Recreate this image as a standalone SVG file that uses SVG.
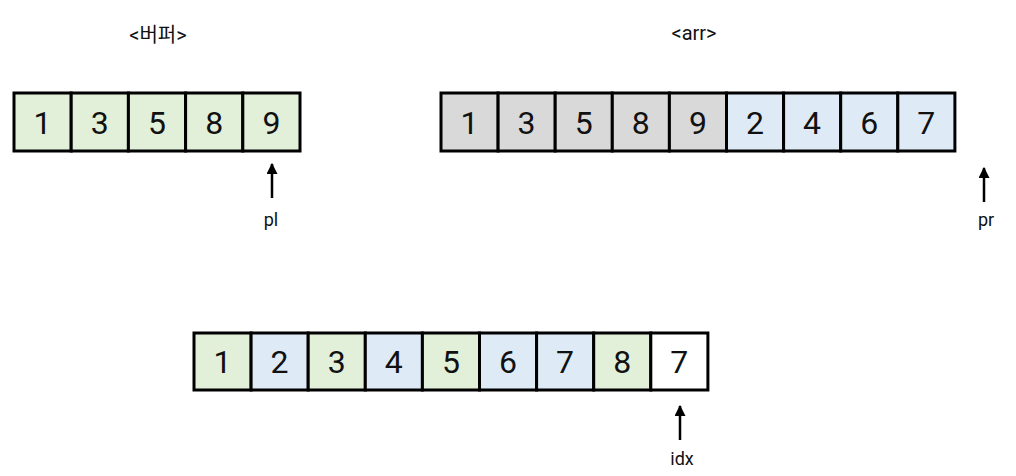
<svg xmlns="http://www.w3.org/2000/svg" width="1016" height="476" viewBox="0 0 1016 476">
<style>
.c{stroke:#000;stroke-width:3}
.g{fill:#e2efd9}.b{fill:#deebf6}.s{fill:#d9d9d9}.w{fill:#fff}
.n{font-family:Roboto,"Liberation Sans",sans-serif;font-size:32px;fill:#111;text-anchor:middle}
.l{font-family:Roboto,"Liberation Sans",sans-serif;font-size:18px;fill:#111;text-anchor:middle}
.t{font-family:Roboto,"Noto Sans CJK KR",sans-serif;font-size:20px;fill:#111;text-anchor:middle}
.a{stroke:#000;stroke-width:2.5;fill:none}
</style>
<defs>
<marker id="ah" viewBox="0 0 10 10" refX="9" refY="5" markerWidth="4.4" markerHeight="4.4" orient="auto" markerUnits="strokeWidth">
<path d="M0,0 L10,5 L0,10 z" fill="#000"/>
</marker>
</defs>
<rect width="1016" height="476" fill="#fff"/>
<text class="t" x="158" y="42">&lt;버퍼&gt;</text>
<text class="t" x="694" y="40">&lt;arr&gt;</text>
<g id="buffer">
<rect class="c g" x="14" y="93" width="57.2" height="58"/><text class="n" x="42.6" y="134">1</text>
<rect class="c g" x="71.2" y="93" width="57.2" height="58"/><text class="n" x="99.8" y="134">3</text>
<rect class="c g" x="128.4" y="93" width="57.2" height="58"/><text class="n" x="157" y="134">5</text>
<rect class="c g" x="185.6" y="93" width="57.2" height="58"/><text class="n" x="214.2" y="134">8</text>
<rect class="c g" x="242.8" y="93" width="57.2" height="58"/><text class="n" x="271.4" y="134">9</text>
</g>
<g id="arr">
<rect class="c s" x="441" y="93" width="57.1" height="58"/><text class="n" x="469.5" y="134">1</text>
<rect class="c s" x="498.1" y="93" width="57.1" height="58"/><text class="n" x="526.6" y="134">3</text>
<rect class="c s" x="555.2" y="93" width="57.1" height="58"/><text class="n" x="583.7" y="134">5</text>
<rect class="c s" x="612.3" y="93" width="57.1" height="58"/><text class="n" x="640.8" y="134">8</text>
<rect class="c s" x="669.4" y="93" width="57.1" height="58"/><text class="n" x="697.9" y="134">9</text>
<rect class="c b" x="726.5" y="93" width="57.1" height="58"/><text class="n" x="755" y="134">2</text>
<rect class="c b" x="783.6" y="93" width="57.1" height="58"/><text class="n" x="812.1" y="134">4</text>
<rect class="c b" x="840.7" y="93" width="57.1" height="58"/><text class="n" x="869.2" y="134">6</text>
<rect class="c b" x="897.8" y="93" width="57.1" height="58"/><text class="n" x="926.3" y="134">7</text>
</g>
<g id="merged">
<rect class="c g" x="194" y="333" width="57.1" height="57"/><text class="n" x="222.5" y="373">1</text>
<rect class="c b" x="251.1" y="333" width="57.1" height="57"/><text class="n" x="279.6" y="373">2</text>
<rect class="c g" x="308.2" y="333" width="57.1" height="57"/><text class="n" x="336.7" y="373">3</text>
<rect class="c b" x="365.3" y="333" width="57.1" height="57"/><text class="n" x="393.8" y="373">4</text>
<rect class="c g" x="422.4" y="333" width="57.1" height="57"/><text class="n" x="450.9" y="373">5</text>
<rect class="c b" x="479.5" y="333" width="57.1" height="57"/><text class="n" x="508" y="373">6</text>
<rect class="c b" x="536.6" y="333" width="57.1" height="57"/><text class="n" x="565.1" y="373">7</text>
<rect class="c g" x="593.7" y="333" width="57.1" height="57"/><text class="n" x="622.2" y="373">8</text>
<rect class="c w" x="650.8" y="333" width="57.1" height="57"/><text class="n" x="679.3" y="373">7</text>
</g>
<g id="connectors">
<line class="a" x1="272" y1="198" x2="272" y2="164" marker-end="url(#ah)"/>
<line class="a" x1="984" y1="202" x2="984" y2="168" marker-end="url(#ah)"/>
<line class="a" x1="680" y1="440" x2="680" y2="406" marker-end="url(#ah)"/>
</g>
<g id="pl"><text class="l" x="271" y="226">pl</text></g>
<g id="pr"><text class="l" x="986" y="226">pr</text></g>
<g id="idx"><text class="l" x="682" y="465">idx</text></g>
</svg>
